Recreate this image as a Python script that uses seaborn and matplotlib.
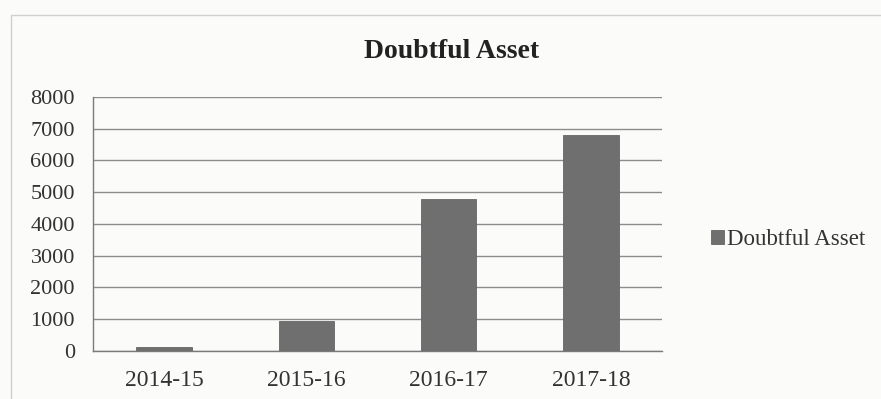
import pandas as pd
import matplotlib.pyplot as plt
import seaborn as sns

# data
years = ['2014-15', '2015-16', '2016-17', '2017-18']
doubtful = [140, 930, 4780, 6790]

df = pd.DataFrame({'year': years, 'value': doubtful})

sns.set_style('white')
plt.rcParams['font.family'] = ['Liberation Serif', 'DejaVu Serif']

fig = plt.figure(figsize=(8.81, 3.99), dpi=100)
fig.patch.set_facecolor('#fbfbf9')
ax = fig.add_axes([0.1056, 0.1203, 0.6458, 0.6366])
ax.set_facecolor('#fbfbf9')

sns.barplot(data=df, x='year', y='value', color='#6f6f6f', width=0.39,
            saturation=1, ax=ax, label='Doubtful Asset', zorder=3,
            edgecolor='#666666', linewidth=0.6)

ax.set_ylim(0, 8000)
ax.set_yticks(range(0, 8001, 1000))
ax.set_xlim(-0.5, 3.5)
ax.yaxis.grid(True, color='#8c8c8c', linewidth=1.0, zorder=0)
ax.set_axisbelow(True)
ax.set_xlabel('')
ax.set_ylabel('')

for s in ['top', 'right']:
    ax.spines[s].set_visible(False)
for s in ['left', 'bottom']:
    ax.spines[s].set_color('#7a7a7a')
    ax.spines[s].set_linewidth(1.0)

# category boundary ticks on x axis
ax.set_xticks([0, 1, 2, 3])
ax.set_xticklabels(years)
ax.set_xticks([-0.5, 0.5, 1.5, 2.5, 3.5], minor=True)
ax.tick_params(axis='x', which='major', length=0, labelsize=17, pad=14, colors='#333333')
ax.tick_params(axis='x', which='minor', length=5, direction='out', color='#7a7a7a')
ax.tick_params(axis='y', length=5, direction='out', color='#7a7a7a', labelsize=16,
               labelcolor='#333333', pad=8)

fig.text(0.512, 0.87, 'Doubtful Asset', ha='center', va='center',
         fontsize=20, fontweight='bold', color='#222222')

leg = ax.legend(loc='center left', bbox_to_anchor=(1.05, 0.44), frameon=False,
                fontsize=16.5, handlelength=0.55, handleheight=0.55, handletextpad=0.15)
for t in leg.get_texts():
    t.set_color('#333333')

# faint outer border of the chart area
fig.add_artist(plt.Rectangle((0.013, -0.05), 1.0, 1.013, transform=fig.transFigure,
                             fill=False, edgecolor='#cfcfcf', linewidth=1.0))

fig.savefig('out.png', dpi=100, facecolor=fig.get_facecolor())
